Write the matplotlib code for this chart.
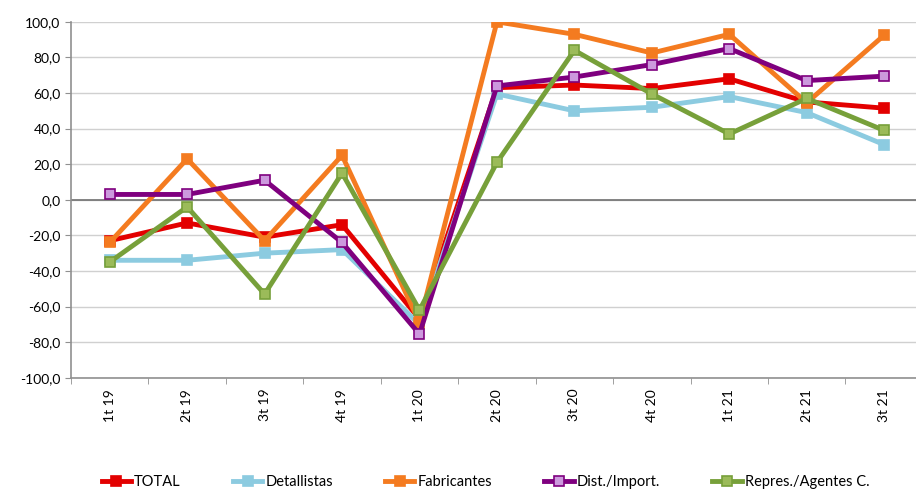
import numpy as np
import matplotlib.pyplot as plt
from matplotlib.ticker import FixedLocator, FuncFormatter

plt.rcParams["font.family"] = ["Lato", "DejaVu Sans"]

# data
quarters = ["1t 19", "2t 19", "3t 19", "4t 19", "1t 20", "2t 20",
            "3t 20", "4t 20", "1t 21", "2t 21", "3t 21"]
total = [-23, -13, -21, -14, -67, 63, 64.5, 62.5, 68, 55, 51.5]
detallistas = [-34, -34, -30, -28, -70, 59.5, 50, 52, 58, 49, 31]
fabricantes = [-24, 23, -23, 25, -69, 100, 93, 82.5, 93, 54.5, 92.5]
dist_import = [3, 3, 11, -24, -75.5, 64, 69, 76, 85, 67, 69.5]
repres = [-35, -4, -53, 15, -62, 21, 84, 59.5, 37, 57, 39]

series = [
    ("TOTAL", total, "#e30000", "#e30000"),
    ("Detallistas", detallistas, "#8ccbe0", "#8ccbe0"),
    ("Fabricantes", fabricantes, "#f47b20", "#f47b20"),
    ("Dist./Import.", dist_import, "#7f007f", "#cc99dd"),
    ("Repres./Agentes C.", repres, "#77a03a", "#9bbb59"),
]

fig = plt.figure(figsize=(9.16, 4.97), dpi=100)
ax = fig.add_axes([0.0775, 0.24, 0.93, 0.716])

x = np.arange(len(quarters))
for name, values, color, face in series:
    ax.plot(x, values, color=color, linewidth=3.5, marker="s", markersize=6.5,
            markerfacecolor=face, markeredgecolor=color, markeredgewidth=1.2,
            label=name, zorder=3)

ax.set_ylim(-100, 100)
ax.set_xlim(-0.5, len(quarters) - 0.5)
ax.set_yticks(np.arange(-100, 101, 20))
ax.yaxis.set_major_formatter(FuncFormatter(lambda v, p: f"{v:.1f}".replace(".", ",")))
ax.grid(axis="y", color="#d0d0d0", linewidth=1)
ax.axhline(0, color="#707070", linewidth=1.2, zorder=2)

ax.set_xticks(x)
ax.set_xticklabels(quarters, rotation=90)
ax.xaxis.set_minor_locator(FixedLocator(np.arange(-0.5, len(quarters), 1)))
ax.tick_params(axis="x", which="major", length=0, pad=8, labelsize=10)
ax.tick_params(axis="x", which="minor", length=4, color="#909090")
ax.tick_params(axis="y", length=4, color="#909090", labelsize=10)

for side in ["top", "right"]:
    ax.spines[side].set_visible(False)
for side in ["left", "bottom"]:
    ax.spines[side].set_color("#909090")
    ax.spines[side].set_linewidth(1.2)

fig.legend(loc="lower center", bbox_to_anchor=(0.53, -0.01), ncol=5,
           frameon=False, fontsize=10.5, handlelength=2.0, handletextpad=0.2,
           columnspacing=3.6)

fig.savefig("out.png", dpi=100)
